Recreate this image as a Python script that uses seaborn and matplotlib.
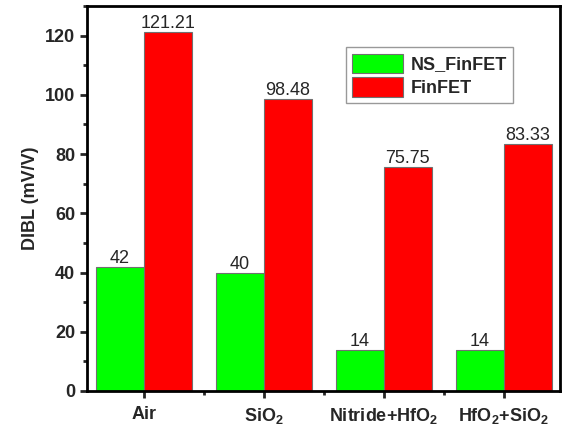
import matplotlib
matplotlib.use("Agg")
import matplotlib.pyplot as plt
import seaborn as sns
import pandas as pd
from matplotlib.ticker import MultipleLocator

categories = ["Air", "SiO$_2$", "Nitride+HfO$_2$", "HfO$_2$+SiO$_2$"]
ns_finfet = [42, 40, 14, 14]
finfet = [121.21, 98.48, 75.75, 83.33]
ns_labels = ["42", "40", "14", "14"]
fin_labels = ["121.21", "98.48", "75.75", "83.33"]
series = ["NS_FinFET", "FinFET"]

sns.set_style("ticks")
plt.rcParams['font.family'] = ['Liberation Sans', 'DejaVu Sans']
plt.rcParams['mathtext.fontset'] = 'custom'
plt.rcParams['mathtext.rm'] = 'Liberation Sans:bold'
plt.rcParams['mathtext.bf'] = 'Liberation Sans:bold'
plt.rcParams['mathtext.it'] = 'Liberation Sans:bold'

df = pd.DataFrame({
    "cat": categories * 2,
    "val": ns_finfet + finfet,
    "series": [series[0]] * 4 + [series[1]] * 4,
})

fig = plt.figure(figsize=(5.69, 4.32), dpi=100)
ax = fig.add_axes([0.153, 0.095, 0.831, 0.891])
sns.barplot(data=df, x="cat", y="val", hue="series", hue_order=series,
            palette=["#00ff00", "#ff0000"], width=0.8, ax=ax,
            edgecolor="#707070", linewidth=0.8, saturation=1, errorbar=None)

for cont, labs in zip(ax.containers, [ns_labels, fin_labels]):
    ax.bar_label(cont, labels=labs, fontsize=13, padding=0)

ax.set_ylim(0, 130)
ax.set_xlim(-0.475, 3.47)
ax.yaxis.set_major_locator(MultipleLocator(20))
ax.yaxis.set_minor_locator(MultipleLocator(10))
ax.xaxis.set_minor_locator(MultipleLocator(0.5))
ax.set_xlabel("")
ax.set_ylabel("DIBL (mV/V)", fontsize=13, fontweight="bold", labelpad=4)
for s in ax.spines.values():
    s.set_linewidth(2)
    s.set_visible(True)
    s.set_color("black")
ax.tick_params(axis="both", which="major", direction="out", length=5, width=2,
               labelsize=13)
ax.tick_params(axis="x", which="major", pad=6)
ax.tick_params(axis="both", which="minor", direction="out", length=3, width=2)
for lab in ax.get_xticklabels() + ax.get_yticklabels():
    lab.set_fontweight("bold")

leg = ax.legend(loc="upper left", bbox_to_anchor=(0.548, 0.893), fontsize=13,
                frameon=True, fancybox=False, edgecolor="#808080",
                handlelength=2.8, handleheight=1.3, borderpad=0.35,
                labelspacing=0.2, handletextpad=0.4, borderaxespad=0)
leg.get_frame().set_linewidth(1.0)
for t in leg.get_texts():
    t.set_fontweight("bold")

fig.savefig("out.png", dpi=100)
